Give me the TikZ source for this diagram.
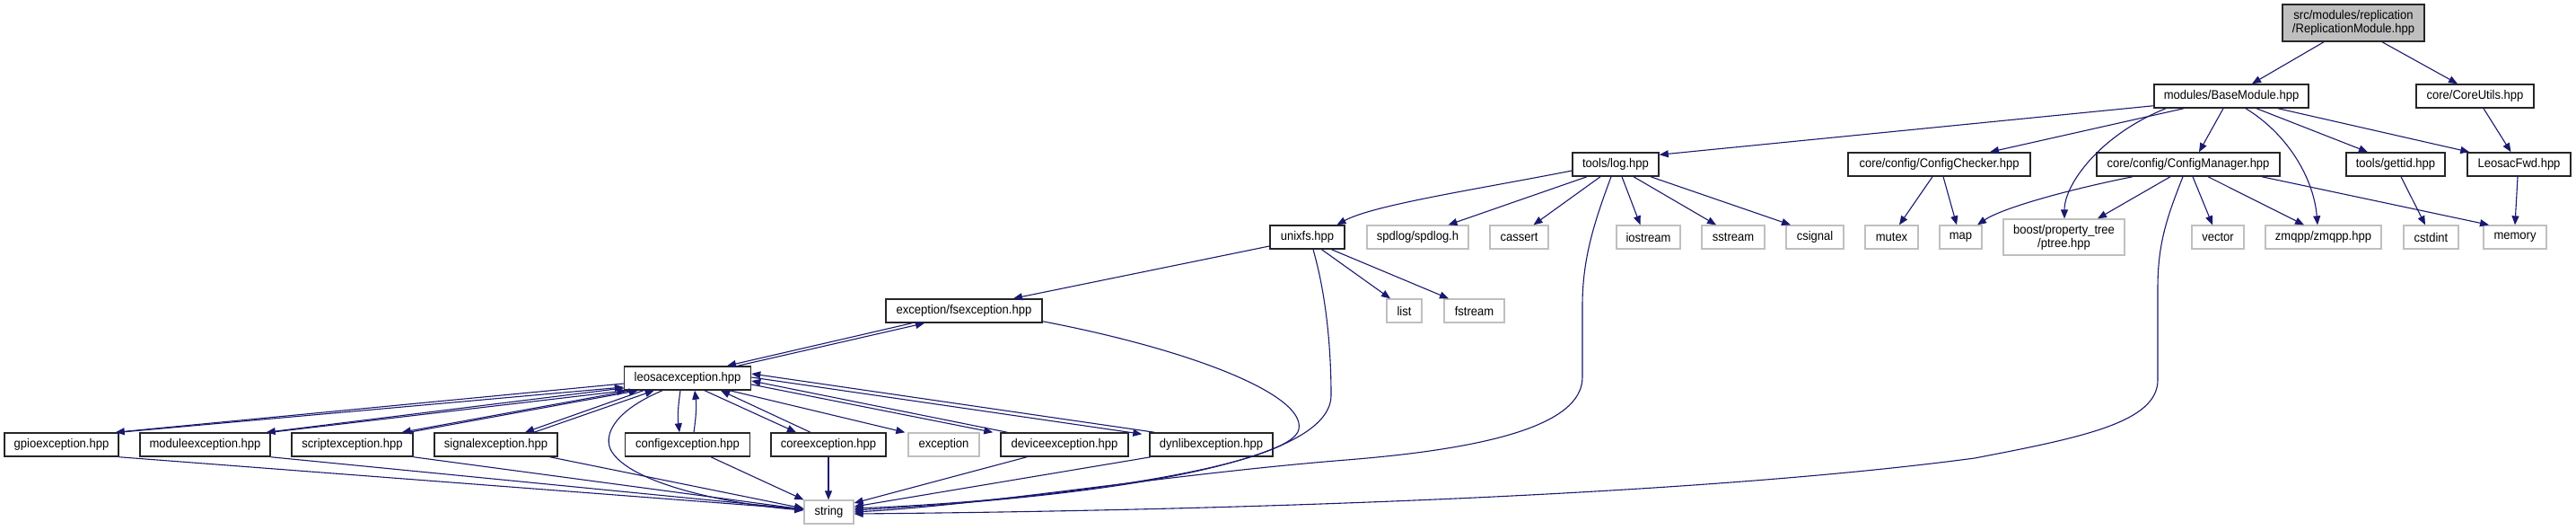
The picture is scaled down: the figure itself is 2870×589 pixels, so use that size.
\documentclass[tikz,border=0pt]{standalone}
\usepackage{fontspec}
\setmainfont[FakeStretch=0.93]{Liberation Sans}
\usetikzlibrary{arrows.meta}
\definecolor{edgeblue}{HTML}{191970}
\definecolor{sysgray}{HTML}{BFBFBF}
\tikzset{
  file/.style={draw=black!85, line width=1.5pt, inner sep=0pt, minimum height=26pt,
    font=\fontsize{14}{15}\selectfont, align=center, fill=white},
  sys/.style={file, draw=sysgray, line width=1.3pt},
  rootfile/.style={file, fill=sysgray, minimum height=41pt},
  edge/.style={draw=edgeblue, line width=1.1pt, -{Triangle[length=10pt,width=8pt]}},
}
\begin{document}
\begin{tikzpicture}[x=1pt,y=-1pt]
\useasboundingbox[fill=white] (0,0) rectangle (2870,589);
% row 1-3
\node[rootfile, minimum width=158pt] (rep) at (2622,25.5) {src/modules/replication\\/ReplicationModule.hpp};
\node[file, minimum width=172pt] (base) at (2486,107) {modules/BaseModule.hpp};
\node[file, minimum width=131pt] (coreutils) at (2757.5,107) {core/CoreUtils.hpp};
\node[file, minimum width=96pt] (log) at (1800,183) {tools/log.hpp};
\node[file, minimum width=203pt] (checker) at (2160.5,183) {core/config/ConfigChecker.hpp};
\node[file, minimum width=204pt] (manager) at (2438,183) {core/config/ConfigManager.hpp};
\node[file, minimum width=110pt] (gettid) at (2669,183) {tools/gettid.hpp};
\node[file, minimum width=115pt] (fwd) at (2806.5,183) {LeosacFwd.hpp};
% row 4
\node[file, minimum width=83pt] (unixfs) at (1456.5,264) {unixfs.hpp};
\node[sys, minimum width=113pt] (spdlog) at (1579.5,264) {spdlog/spdlog.h};
\node[sys, minimum width=65pt] (cassert) at (1692.5,264) {cassert};
\node[sys, minimum width=71pt] (iostream) at (1836.5,264) {iostream};
\node[sys, minimum width=70pt] (sstream) at (1931,264) {sstream};
\node[sys, minimum width=64pt] (csignal) at (2022,264) {csignal};
\node[sys, minimum width=59pt] (mutex) at (2107.5,264) {mutex};
\node[sys, minimum width=47pt] (map) at (2184.5,264) {map};
\node[sys, minimum width=135pt, minimum height=40pt] (boost) at (2299.5,264) {boost/property\_tree\\/ptree.hpp};
\node[sys, minimum width=58pt] (vector) at (2471,264) {vector};
\node[sys, minimum width=129pt] (zmqpp) at (2588.5,264) {zmqpp/zmqpp.hpp};
\node[sys, minimum width=61pt] (cstdint) at (2708.5,264) {cstdint};
\node[sys, minimum width=70pt] (memory) at (2802,264) {memory};
% row 5-6
\node[file, minimum width=174pt] (fsexc) at (1074,346) {exception/fsexception.hpp};
\node[sys, minimum width=39pt] (list) at (1564.5,346) {list};
\node[sys, minimum width=67pt] (fstream) at (1642.5,346) {fstream};
\node[file, minimum width=141pt] (leosac) at (766,421) {leosacexception.hpp};
% row 7
\node[file, minimum width=127pt] (gpio) at (68.5,495) {gpioexception.hpp};
\node[file, minimum width=145pt] (module) at (228.5,495) {moduleexception.hpp};
\node[file, minimum width=135pt] (script) at (392.5,495) {scriptexception.hpp};
\node[file, minimum width=137pt] (signal) at (552.5,495) {signalexception.hpp};
\node[file, minimum width=139pt] (config) at (766,495) {configexception.hpp};
\node[file, minimum width=128pt] (core) at (923,495) {coreexception.hpp};
\node[sys, minimum width=79pt] (exception) at (1051.5,495) {exception};
\node[file, minimum width=142pt] (device) at (1186,495) {deviceexception.hpp};
\node[file, minimum width=137pt] (dynlib) at (1349.5,495) {dynlibexception.hpp};
\node[sys, minimum width=55pt] (string) at (923.5,570) {string};

% edges top
\draw[edge] ([xshift=-33pt]rep.south) -- ([xshift=23pt]base.north);
\draw[edge] ([xshift=32pt]rep.south) -- ([xshift=-19.5pt]coreutils.north);
\draw[edge] ([yshift=3pt]base.south west) -- ([yshift=-3pt]log.north east);
\draw[edge] ([xshift=-53pt]base.south) -- ([xshift=56.5pt]checker.north);
\draw[edge] ([xshift=-9pt]base.south) -- ([xshift=12pt]manager.north);
\draw[edge] ([xshift=-73pt]base.south) .. controls (2340,150) and (2300,205) .. ([xshift=0.5pt]boost.north);
\draw[edge] ([xshift=16pt]base.south) .. controls (2550,150) and (2578,200) .. ([xshift=-6.5pt]zmqpp.north);
\draw[edge] ([xshift=28pt]base.south) -- ([xshift=-31pt]gettid.north);
\draw[edge] ([xshift=52pt]base.south) -- ([xshift=3pt]fwd.north west);
\draw[edge] ([xshift=9.5pt]coreutils.south) -- ([xshift=-9pt]fwd.north);
% tools/log
\draw[edge] ([yshift=-7pt]log.west) .. controls (1650,210) and (1530,228) .. ([xshift=33pt]unixfs.north);
\draw[edge] ([xshift=-32pt]log.south) -- ([xshift=34pt]spdlog.north);
\draw[edge] ([xshift=-17pt]log.south) -- ([xshift=16pt]cassert.north);
\draw[edge] ([xshift=-5pt]log.south) .. controls (1775,250) and (1763,290) .. (1763,340) -- (1763,420)
   .. controls (1763,475) and (1650,500) .. (1500,512) .. controls (1300,528) and (1100,562) .. (string.east);
\draw[edge] ([xshift=7pt]log.south) -- ([xshift=-9pt]iostream.north);
\draw[edge] ([xshift=20pt]log.south) -- ([xshift=-19pt]sstream.north);
\draw[edge] ([xshift=39pt]log.south) -- ([xshift=-27pt]csignal.north);
% config checker / manager
\draw[edge] ([xshift=-7.5pt]checker.south) -- ([xshift=8.5pt]mutex.north);
\draw[edge] ([xshift=4.5pt]checker.south) -- ([xshift=-4.5pt]map.north);
\draw[edge] ([xshift=-62pt]manager.south) .. controls (2300,212) and (2230,232) .. ([xshift=18.5pt]map.north);
\draw[edge] ([xshift=-20pt]manager.south) -- ([xshift=37.5pt]boost.north);
\draw[edge] ([xshift=-6pt]manager.south) .. controls (2415,240) and (2404,270) .. (2404,320) -- (2404,423)
   .. controls (2404,470) and (2320,487) .. (2200,510) .. controls (1900,550) and (1400,568) .. ([yshift=-2pt]string.east);
\draw[edge] ([xshift=5pt]manager.south) -- ([xshift=-6pt]vector.north);
\draw[edge] ([xshift=22pt]manager.south) -- ([xshift=-21.5pt]zmqpp.north);
\draw[edge] ([xshift=82pt]manager.south) -- ([xshift=-29pt]memory.north);
\draw[edge] ([xshift=6pt]gettid.south) -- ([xshift=-6.5pt]cstdint.north);
\draw[edge] ([xshift=-1.5pt]fwd.south) -- (memory.north);
% unixfs
\draw[edge] ([yshift=-10pt]unixfs.west) -- ([xshift=55pt]fsexc.north);
\draw[edge] ([xshift=16pt]unixfs.south) -- ([xshift=-15.5pt]list.north);
\draw[edge] ([xshift=27pt]unixfs.south) -- ([xshift=-28.5pt]fstream.north);
\draw[edge] ([xshift=6.5pt]unixfs.south) .. controls (1478,330) and (1483,390) .. (1483,440)
   .. controls (1483,505) and (1300,548) .. ([yshift=2pt]string.east);
% fsexception
\draw[edge] ([xshift=-58pt]fsexc.south) -- ([xshift=44pt]leosac.north);
\draw[edge] ([xshift=56pt]leosac.north) -- ([xshift=-44pt]fsexc.south);
\draw[edge] ([yshift=2pt]fsexc.south east) .. controls (1330,390) and (1455,440) .. (1447,478)
   .. controls (1440,515) and (1200,556) .. ([yshift=4pt]string.east);
% leosacexception pairs
\draw[edge] ([yshift=-6pt]leosac.west) -- ([xshift=-4pt]gpio.north east);
\draw[edge] (gpio.north east) -- ([yshift=-10pt]leosac.west);
\draw[edge] ([yshift=-11pt]leosac.west) -- ([xshift=-5pt]module.north east);
\draw[edge] (module.north east) -- ([xshift=3pt]leosac.south west);
\draw[edge] ([xshift=8pt]leosac.south west) -- ([xshift=-13pt]script.north east);
\draw[edge] ([xshift=-5pt]script.north east) -- ([xshift=16pt]leosac.south west);
\draw[edge] ([xshift=22pt]leosac.south west) -- ([xshift=32.5pt]signal.north);
\draw[edge] ([xshift=42.5pt]signal.north) -- ([xshift=34pt]leosac.south west);
\draw[edge] ([xshift=-8pt]leosac.south) .. controls (755,455) and (755,465) .. ([xshift=-9pt]config.north);
\draw[edge] ([xshift=7pt]config.north) .. controls (776,460) and (776,450) .. ([xshift=8pt]leosac.south);
\draw[edge] ([xshift=19pt]leosac.south) -- ([xshift=-36pt]core.north);
\draw[edge] ([xshift=-20pt]core.north) -- ([xshift=37pt]leosac.south);
\draw[edge] ([xshift=47pt]leosac.south) -- ([xshift=-3pt]exception.north west);
\draw[edge] ([yshift=-7pt]leosac.east) -- ([xshift=-8pt]device.north west);
\draw[edge] ([xshift=8pt]device.north west) -- ([yshift=-3pt]leosac.east);
\draw[edge] ([yshift=1pt]leosac.east) -- ([xshift=-8pt,yshift=-2pt]dynlib.north west);
\draw[edge] ([xshift=6pt]dynlib.north west) -- ([yshift=5pt]leosac.east);
\draw[edge] ([xshift=-28pt]leosac.south) .. controls (690,455) and (672,480) .. (680,500)
   .. controls (700,540) and (820,562) .. ([yshift=2pt]string.west);
% row 7 to string
\draw[edge] (gpio.south east) -- ([yshift=3pt]string.west);
\draw[edge] (module.south east) -- ([yshift=3pt]string.west);
\draw[edge] (script.south east) -- ([yshift=3pt]string.west);
\draw[edge] ([xshift=-9pt]signal.south east) -- ([yshift=4pt]string.west);
\draw[edge] ([xshift=26pt]config.south) -- (string.north west);
\draw[edge] (core.south) -- ([xshift=-0.5pt]string.north);
\draw[edge] ([xshift=-42pt]device.south) -- ([yshift=10pt]string.east);
\draw[edge] ([xshift=-67.5pt]dynlib.south) -- ([yshift=6pt]string.east);
\end{tikzpicture}
\end{document}
